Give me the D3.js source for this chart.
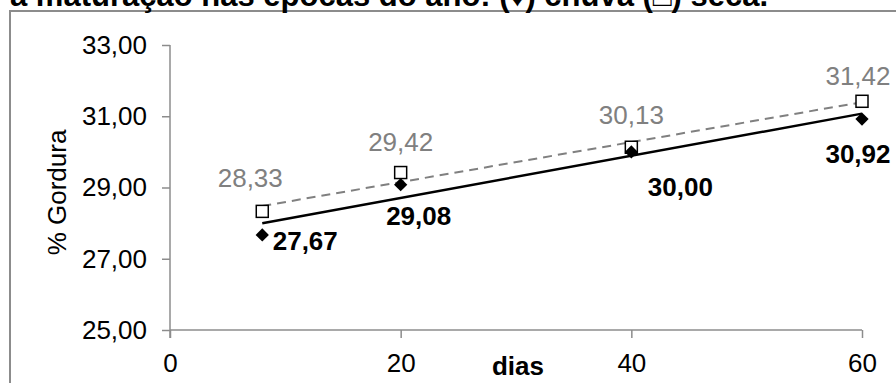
<!DOCTYPE html>
<html>
<head>
<meta charset="utf-8">
<script src="https://cdn.jsdelivr.net/npm/d3@7"></script>
<style>
  html, body { margin: 0; padding: 0; background: #fff; overflow: hidden; }
  svg { display: block; font-family: "Liberation Sans", Arial, sans-serif; }
</style>
</head>
<body>
<svg id="chart" width="896" height="383"></svg>
<script>
// Fat content (%) over ripening days, rainy (chuva) vs dry (seca) season
const days = [8, 20, 40, 60];
const chuva = [27.67, 29.08, 30.00, 30.92];
const seca = [28.33, 29.42, 30.13, 31.42];
const xTicks = [0, 20, 40, 60];
const yTicks = [25, 27, 29, 31, 33];
const titleText = "a maturação nas épocas do ano: (♦) chuva (□) seca.";
const yLabel = "% Gordura";
const xLabel = "dias";

// label placement relative to each point (pixels)
const secaLabelOffset = [[-12, -34], [0, -31], [0, -33], [-4, -26]];
const chuvaLabelOffset = [[43, 6], [18, 31], [49, 35], [-4, 35]];

const ptBR = d3.formatLocale({ decimal: ",", thousands: ".", grouping: [3], currency: ["R$", ""] });
const fmt2 = ptBR.format(".2f");
const fmt0 = ptBR.format("d");

const svg = d3.select("#chart");
const x = d3.scaleLinear().domain([0, 60]).range([170, 862]);
const y = d3.scaleLinear().domain([25, 33]).range([330, 45]);

// outer frame of the chart area
svg.append("path")
  .attr("d", "M10,383 L10,11 L900,11")
  .attr("fill", "none").attr("stroke", "#8c8c8c").attr("stroke-width", 2);

// title (its top lies above the visible area)
svg.append("text")
  .attr("x", 10).attr("y", 6)
  .attr("font-size", 31).attr("font-weight", "bold").attr("fill", "#000")
  .text(titleText);

// axes
const axisColor = "#8c8c8c";
const gy = svg.append("g").attr("transform", "translate(170,0)")
  .call(d3.axisLeft(y).tickValues(yTicks).tickFormat(fmt2).tickSize(8).tickPadding(15));
const gx = svg.append("g").attr("transform", "translate(0,330)")
  .call(d3.axisBottom(x).tickValues(xTicks).tickFormat(fmt0).tickSize(8).tickPadding(16));
[gx, gy].forEach(g => {
  g.selectAll("path.domain").attr("stroke", axisColor).attr("stroke-width", 1.5);
  g.selectAll(".tick line").attr("stroke", axisColor).attr("stroke-width", 1.5);
  g.selectAll(".tick text").attr("fill", "#000").attr("font-size", 26)
    .attr("font-family", "Liberation Sans, Arial, sans-serif");
});
gx.select("path.domain").attr("d", `M${x(0)},0H${x(60)}`);
gy.select("path.domain").attr("d", `M0,${y(33)}V${y(25) + 8}`);

// axis titles
svg.append("text")
  .attr("transform", `translate(66,${(y(25) + y(33)) / 2 + 5}) rotate(-90)`)
  .attr("text-anchor", "middle").attr("font-size", 26).attr("fill", "#000")
  .text(yLabel);
svg.append("text")
  .attr("x", 518).attr("y", 375)
  .attr("text-anchor", "middle").attr("font-size", 26).attr("font-weight", "bold").attr("fill", "#000")
  .text(xLabel);

// least-squares trend line for a series
function trend(xs, ys) {
  const mx = d3.mean(xs), my = d3.mean(ys);
  const sxy = d3.sum(xs, (v, i) => (v - mx) * (ys[i] - my));
  const sxx = d3.sum(xs, v => (v - mx) * (v - mx));
  const b = sxy / sxx, a = my - b * mx;
  const x0 = d3.min(xs), x1 = d3.max(xs);
  return [[x0, a + b * x0], [x1, a + b * x1]];
}
const line = d3.line().x(d => x(d[0])).y(d => y(d[1]));

svg.append("path").datum(trend(days, seca))
  .attr("d", line).attr("fill", "none")
  .attr("stroke", "#808080").attr("stroke-width", 2).attr("stroke-dasharray", "9,6");
svg.append("path").datum(trend(days, chuva))
  .attr("d", line).attr("fill", "none")
  .attr("stroke", "#000").attr("stroke-width", 2.5);

// markers
const secaPts = days.map((d, i) => ({ d, v: seca[i], off: secaLabelOffset[i] }));
const chuvaPts = days.map((d, i) => ({ d, v: chuva[i], off: chuvaLabelOffset[i] }));

svg.append("g").selectAll("rect").data(secaPts).join("rect")
  .attr("x", p => x(p.d) - 6).attr("y", p => y(p.v) - 6)
  .attr("width", 12).attr("height", 12)
  .attr("fill", "#fff").attr("stroke", "#000").attr("stroke-width", 1.5);

const diamond = d3.symbol().type(d3.symbolSquare).size(88);
svg.append("g").selectAll("path").data(chuvaPts).join("path")
  .attr("d", diamond)
  .attr("transform", p => `translate(${x(p.d)},${y(p.v)}) rotate(45)`)
  .attr("fill", "#000");

// value labels
svg.append("g").selectAll("text").data(secaPts).join("text")
  .attr("x", p => x(p.d) + p.off[0]).attr("y", p => y(p.v) + p.off[1])
  .attr("dy", "0.36em").attr("text-anchor", "middle")
  .attr("font-size", 26).attr("fill", "#808080")
  .text(p => fmt2(p.v));
svg.append("g").selectAll("text").data(chuvaPts).join("text")
  .attr("x", p => x(p.d) + p.off[0]).attr("y", p => y(p.v) + p.off[1])
  .attr("dy", "0.36em").attr("text-anchor", "middle")
  .attr("font-size", 26).attr("font-weight", "bold").attr("fill", "#000")
  .text(p => fmt2(p.v));
</script>
</body>
</html>
